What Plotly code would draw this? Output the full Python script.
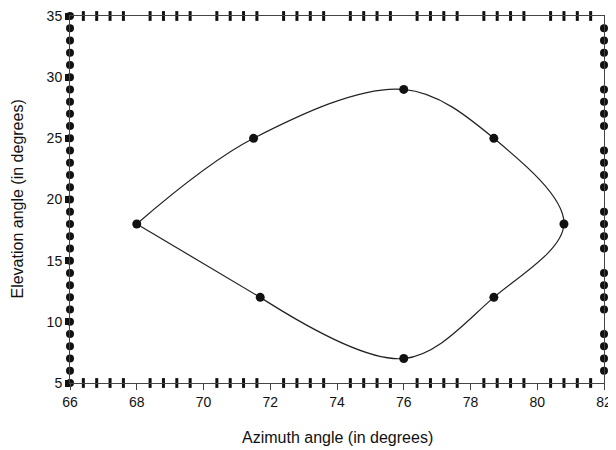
import plotly.graph_objects as go

# Data points (azimuth, elevation) around the closed contour
azimuth = [68.0, 71.5, 76.0, 78.7, 80.8, 78.7, 76.0, 71.7, 68.0]
elevation = [18.0, 25.0, 29.0, 25.0, 18.0, 12.0, 7.0, 12.0, 18.0]

x_range = [66, 82]
y_range = [5, 35]
x_major = [66, 68, 70, 72, 74, 76, 78, 80, 82]
y_major = [5, 10, 15, 20, 25, 30, 35]

# frame decorations (minor tick marks drawn as dots / dashes)
x_minor = [round(66 + 0.4 * i, 1) for i in range(1, 40) if i % 5 != 0]
y_left = list(range(5, 36))
y_right = [v for v in range(6, 35) if v % 5 != 0]

fig = go.Figure()

# smooth contour, sharp corner at the left-most point
fig.add_trace(go.Scatter(
    x=azimuth[:-1], y=elevation[:-1], mode="lines",
    line=dict(color="#222", width=1.2, shape="spline", smoothing=1.0),
    hoverinfo="skip", showlegend=False))
fig.add_trace(go.Scatter(
    x=azimuth[-2:], y=elevation[-2:], mode="lines",
    line=dict(color="#222", width=1.2),
    hoverinfo="skip", showlegend=False))
fig.add_trace(go.Scatter(
    x=azimuth[:-1], y=elevation[:-1], mode="markers",
    marker=dict(color="#111", size=9), showlegend=False))

# left frame dots
fig.add_trace(go.Scatter(
    x=[x_range[0]] * len(y_left), y=y_left, mode="markers",
    marker=dict(color="#111", size=8), cliponaxis=False, showlegend=False,
    hoverinfo="skip"))
# right frame dots
fig.add_trace(go.Scatter(
    x=[x_range[1]] * len(y_right), y=y_right, mode="markers",
    marker=dict(color="#111", size=8), cliponaxis=False, showlegend=False,
    hoverinfo="skip"))
# top and bottom dashes
for yv in y_range:
    fig.add_trace(go.Scatter(
        x=x_minor, y=[yv] * len(x_minor), mode="markers",
        marker=dict(symbol="line-ns", size=7, line=dict(color="#111", width=3)),
        cliponaxis=False, showlegend=False, hoverinfo="skip"))

fig.update_layout(
    width=608, height=442,
    margin=dict(l=62, r=12, t=8, b=67),
    paper_bgcolor="white", plot_bgcolor="white",
    font=dict(family="Liberation Sans, Arial, sans-serif", color="#111", size=14),
    annotations=[
        dict(text="Azimuth angle (in degrees)", xref="paper", yref="paper",
             x=0.5, y=0, yshift=-54, showarrow=False, font=dict(size=16),
             xanchor="center", yanchor="middle"),
        dict(text="Elevation angle (in degrees)", xref="paper", yref="paper",
             x=0, y=0.5, xshift=-53, showarrow=False, font=dict(size=16),
             textangle=-90, xanchor="center", yanchor="middle"),
    ],
)
fig.update_xaxes(
    range=x_range, tickvals=x_major, ticktext=[str(v) for v in x_major],
    showgrid=False, zeroline=False, automargin=False, ticklabeloverflow="allow",
    showline=True, linecolor="#444", linewidth=1, mirror=True,
    ticks="outside", ticklen=6, tickwidth=1, tickcolor="#444",
)
fig.update_yaxes(
    range=y_range, tickvals=y_major, ticktext=[str(v) for v in y_major],
    showgrid=False, zeroline=False, automargin=False, ticklabeloverflow="allow",
    showline=True, linecolor="#444", linewidth=1, mirror=True,
    ticks="outside", ticklen=4, tickwidth=7, tickcolor="#111",
)

fig.write_html("out.html")
